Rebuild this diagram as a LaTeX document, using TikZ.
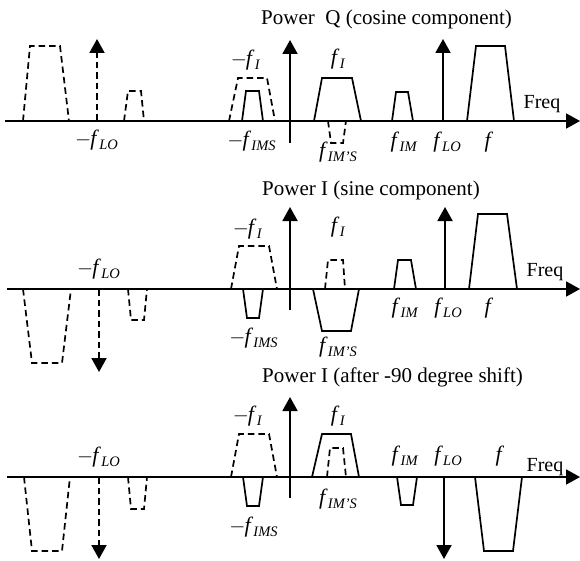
\documentclass[tikz,border=0pt]{standalone}
\usepackage{fontspec}
\setmainfont{Liberation Serif}
\usetikzlibrary{arrows.meta}
\newcommand\fl[1]{{\fontsize{22}{24}\selectfont\textit{f}}\kern0.3pt\raisebox{-4pt}{\fontsize{14.5}{14}\selectfont\textit{#1}}}
\newcommand\mn{\kern-1pt$-$\kern-1pt}
\newcommand\trapz[7][]{\draw[trap,#1] (#2,#6)--(#4,#7)--(#5,#7)--(#3,#6)--cycle;}
\tikzset{
  ax/.style={line width=1.9pt,-{Triangle[length=14pt,width=15pt]}},
  trap/.style={line width=1.7pt,line join=miter},
  dsh/.style={dash pattern=on 6.5pt off 4pt},
  lab/.style={inner sep=0pt,font=\fontsize{20}{24}\selectfont},
  ttl/.style={inner sep=0pt,anchor=west,font=\fontsize{21}{24}\selectfont},
}
\begin{document}
\begin{tikzpicture}[x=1pt,y=-1pt]
\useasboundingbox (0,0) rectangle (580,561);
% ================= Panel 1 =================
\coordinate (a1l) at (5,121); \coordinate (a1r) at (580,121);
\coordinate (v1b) at (290,143); \coordinate (v1t) at (290,40);
\draw[ax] (a1l) -- (a1r);
\draw[ax] (v1b) -- (v1t);
\node[ttl] (t1) at (261,19) {Power\ \ Q (cosine component)};
\trapz[dsh]{23}{69}{30}{60}{121}{46}
\coordinate (l1a) at (97,121); \coordinate (l1b) at (97,39);
\draw[ax,dsh] (l1a) -- (l1b);
\trapz[dsh]{124}{144}{128}{141}{121}{91}
\trapz[dsh]{229}{275}{238}{267}{121}{78}
\trapz{242}{263}{246}{259}{121}{91}
\trapz{314}{361}{322}{352}{121}{78}
\trapz[dsh]{328}{346}{331}{343}{121}{143}
\trapz{392}{413}{396}{408}{121}{92}
\coordinate (l1c) at (443,121); \coordinate (l1d) at (443,39);
\draw[ax] (l1c) -- (l1d);
\trapz{467}{514}{476}{505}{121}{46}
\node[lab] (p1a) at (246,60) {\mn\fl{I}};
\node[lab] (p1b) at (97,140) {\mn\fl{LO}};
\node[lab] (p1c) at (252,141) {\mn\fl{IMS}};
\node[lab] (p1d) at (338,59) {\fl{I}};
\node[lab] (p1e) at (338,152) {\fl{IM'S}};
\node[lab] (p1f) at (404,142) {\fl{IM}};
\node[lab] (p1g) at (447,142) {\fl{LO}};
\node[lab] (p1h) at (489,142) {\fl{}};
\node[lab] (p1i) at (542,104) {Freq};
% ================= Panel 2 =================
\coordinate (a2l) at (7,289); \coordinate (a2r) at (580,289);
\coordinate (v2b) at (290,310); \coordinate (v2t) at (290,207);
\draw[ax] (a2l) -- (a2r);
\draw[ax] (v2b) -- (v2t);
\node[ttl] (t2) at (262,190) {Power I (sine component)};
\trapz[dsh]{23}{71}{32}{62}{289}{363}
\coordinate (l2a) at (99,289); \coordinate (l2b) at (99,372);
\draw[ax,dsh] (l2a) -- (l2b);
\trapz[dsh]{128}{147}{131}{144}{289}{320}
\trapz[dsh]{231}{277}{239}{269}{289}{246}
\trapz{243}{263}{247}{259}{289}{318}
\trapz[dsh]{325}{345}{328}{343}{289}{260}
\trapz{313}{359}{322}{351}{289}{331}
\trapz{394}{416}{398}{411}{289}{260}
\coordinate (l2c) at (445,289); \coordinate (l2d) at (445,207);
\draw[ax] (l2c) -- (l2d);
\trapz{469}{517}{478}{507}{289}{214}
\node[lab] (p2a) at (248,229) {\mn\fl{I}};
\node[lab] (p2b) at (99,269) {\mn\fl{LO}};
\node[lab] (p2c) at (254,338) {\mn\fl{IMS}};
\node[lab] (p2d) at (338,227) {\fl{I}};
\node[lab] (p2e) at (338,347) {\fl{IM'S}};
\node[lab] (p2f) at (405,308) {\fl{IM}};
\node[lab] (p2g) at (448,308) {\fl{LO}};
\node[lab] (p2h) at (489,308) {\fl{}};
\node[lab] (p2i) at (545,272) {Freq};
% ================= Panel 3 =================
\coordinate (a3l) at (7,477); \coordinate (a3r) at (580,477);
\coordinate (v3b) at (290,498); \coordinate (v3t) at (290,397);
\draw[ax] (a3l) -- (a3r);
\draw[ax] (v3b) -- (v3t);
\node[ttl] (t3) at (262,377) {Power I (after -90 degree shift)};
\trapz[dsh]{24}{70}{32}{62}{477}{551}
\coordinate (l3a) at (99,477); \coordinate (l3b) at (99,559);
\draw[ax,dsh] (l3a) -- (l3b);
\trapz[dsh]{128}{147}{131}{144}{477}{509}
\trapz[dsh]{231}{277}{239}{269}{477}{434}
\trapz{243}{263}{247}{259}{477}{506}
\trapz{312}{359}{322}{351}{477}{434}
\trapz[dsh]{327}{346}{330}{343}{477}{448}
\trapz{397}{417}{401}{413}{477}{505}
\coordinate (l3c) at (444,477); \coordinate (l3d) at (444,559);
\draw[ax] (l3c) -- (l3d);
\trapz{475}{522}{484}{513}{477}{551}
\node[lab] (p3a) at (248,416) {\mn\fl{I}};
\node[lab] (p3b) at (99,457) {\mn\fl{LO}};
\node[lab] (p3c) at (254,527) {\mn\fl{IMS}};
\node[lab] (p3d) at (338,416) {\fl{I}};
\node[lab] (p3e) at (338,499) {\fl{IM'S}};
\node[lab] (p3f) at (405,456) {\fl{IM}};
\node[lab] (p3g) at (448,456) {\fl{LO}};
\node[lab] (p3h) at (500,456) {\fl{}};
\node[lab] (p3i) at (545,467) {Freq};
\end{tikzpicture}
\end{document}
